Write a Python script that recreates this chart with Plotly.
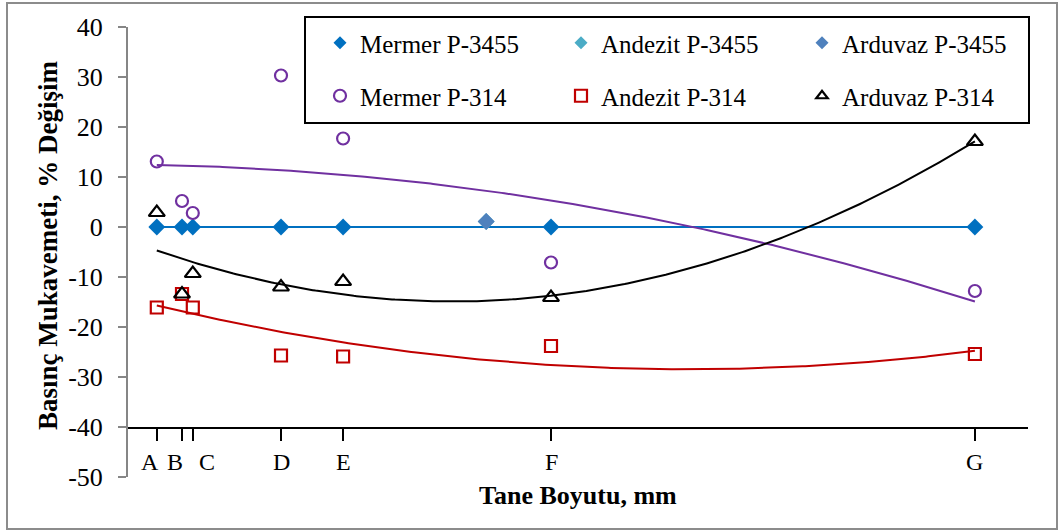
import numpy as np
import plotly.graph_objects as go

# ---- data ----
sizes = ["A", "B", "C", "D", "E", "F", "G"]
size_pos = [3.2, 6.0, 7.2, 17.0, 23.9, 47.0, 94.1]
label_shift = [-7, -7, 14, 0, 0, 0, 0]

y_ticks = [-50, -40, -30, -20, -10, 0, 10, 20, 30, 40]
y_tick_text = ["-50", "-40", "-30", "-20", "-10", "0", "10", "20", "30", "40"]

mermer_3455 = [0, 0, 0, 0, 0, 0, 0]
andezit_3455_x = [39.8]
andezit_3455 = [1.1]
arduvaz_3455_x = [39.8]
arduvaz_3455 = [1.1]
mermer_314 = [13.1, 5.2, 2.8, 30.3, 17.7, -7.1, -12.8]
andezit_314 = [-16.1, -13.4, -16.1, -25.7, -25.9, -23.8, -25.4]
arduvaz_314 = [2.9, -13.4, -9.3, -12.0, -10.9, -14.1, 17.1]

FONT = "Liberation Serif"
C_M3455 = "#0070C0"
C_AN3455 = "#4BACC6"
C_AR3455 = "#4F81BD"
C_M314 = "#7030A0"
C_AN314 = "#C00000"
C_AR314 = "#000000"

fig = go.Figure()

def trend(xs, ys, deg, color):
    c = np.polyfit(xs, ys, deg)
    xx = np.linspace(min(xs), max(xs), 300)
    fig.add_trace(go.Scatter(x=xx, y=np.polyval(c, xx), mode="lines",
                             line=dict(color=color, width=2), showlegend=False,
                             hoverinfo="skip"))

# trend lines
trend(size_pos, mermer_3455, 1, C_M3455)
trend(size_pos, mermer_314, 2, C_M314)
trend(size_pos, andezit_314, 2, C_AN314)
trend(size_pos, arduvaz_314, 2, C_AR314)

series = [
    ("Mermer P-3455", size_pos, mermer_3455, dict(symbol="diamond", size=13, color=C_M3455), "legend"),
    ("Andezit P-3455", andezit_3455_x, andezit_3455, dict(symbol="diamond", size=13, color=C_AN3455), "legend"),
    ("Arduvaz P-3455", arduvaz_3455_x, arduvaz_3455, dict(symbol="diamond", size=13, color=C_AR3455), "legend"),
    ("Mermer P-314", size_pos, mermer_314, dict(symbol="circle-open", size=12, color=C_M314, line=dict(width=2.2, color=C_M314)), "legend2"),
    ("Andezit P-314", size_pos, andezit_314, dict(symbol="square-open", size=12, color=C_AN314, line=dict(width=2.2, color=C_AN314)), "legend2"),
    ("Arduvaz P-314", size_pos, arduvaz_314, dict(symbol="triangle-up-open", size=14, color=C_AR314, line=dict(width=2.2, color=C_AR314)), "legend2"),
]
for name, xs, ys, mk, lg in series:
    fig.add_trace(go.Scatter(x=xs, y=ys, mode="markers", marker=mk, name=name,
                             showlegend=False))
for name, xs, ys, mk, lg in series:
    lm = dict(mk)
    if lg == "legend" or mk["symbol"] == "triangle-up-open":
        lm["size"] = 10
    fig.add_trace(go.Scatter(x=[None], y=[None], mode="markers", marker=lm,
                             name=name, legend=lg, showlegend=True))

# layout geometry (pixels)
W, H = 1063, 531
L, R, T, B = 128, 35, 27, 54
pw, ph = W - L - R, H - T - B

def px(x):
    return (x - L) / pw

def py(y):
    return (H - B - y) / ph

leg_common = dict(orientation="h", xanchor="left", yanchor="middle",
                  bgcolor="rgba(0,0,0,0)", borderwidth=0,
                  entrywidth=196, entrywidthmode="pixels",
                  font=dict(family=FONT, size=25, color="black"))

annotations = [
    dict(text="<b>Tane Boyutu, mm</b>", xref="paper", yref="paper",
         x=0.5, y=py(495), xanchor="center", yanchor="middle", showarrow=False,
         font=dict(family=FONT, size=26, color="black")),
    dict(text="<b>Basınç Mukavemeti, % Değişim</b>", xref="paper", yref="paper",
         x=px(48), y=py(246), xanchor="center", yanchor="middle", showarrow=False,
         textangle=-90, font=dict(family=FONT, size=27, color="black")),
]
for lab, xv, sh in zip(sizes, size_pos, label_shift):
    annotations.append(dict(text=lab, xref="x", yref="paper", x=xv, xshift=sh,
                            y=py(462), xanchor="center", yanchor="middle",
                            showarrow=False,
                            font=dict(family=FONT, size=24, color="black")))

fig.update_layout(
    width=W, height=H,
    margin=dict(l=L, r=R, t=T, b=B),
    paper_bgcolor="white", plot_bgcolor="white",
    font=dict(family=FONT, color="black"),
    legend=dict(x=px(320), y=py(43), **leg_common),
    legend2=dict(x=px(320), y=py(96), **leg_common),
    xaxis=dict(range=[0, 100], anchor="free", position=py(428),
               tickmode="array", tickvals=size_pos, showticklabels=False,
               ticks="outside", ticklen=12, tickwidth=1.5, tickcolor="black",
               showline=True, linecolor="black", linewidth=2,
               showgrid=False, zeroline=False),
    yaxis=dict(range=[-50, 40], tickmode="array", tickvals=y_ticks,
               ticktext=y_tick_text,
               ticks="outside", ticklen=8, tickwidth=1.5, tickcolor="#868686",
               showline=True, linecolor="#868686", linewidth=2,
               showgrid=False, zeroline=False, ticklabelstandoff=10,
               tickfont=dict(family=FONT, size=26, color="black")),
    shapes=[
        dict(type="rect", xref="paper", yref="paper",
             x0=px(305), x1=px(1029), y0=py(123), y1=py(17),
             line=dict(color="black", width=2), fillcolor="white", layer="below"),
        dict(type="rect", xref="paper", yref="paper",
             x0=px(7), x1=px(1057), y0=py(529), y1=py(3),
             line=dict(color="#8c8c8c", width=2), fillcolor="rgba(0,0,0,0)", layer="below"),
    ],
    annotations=annotations,
)

fig.write_html("out.html")
